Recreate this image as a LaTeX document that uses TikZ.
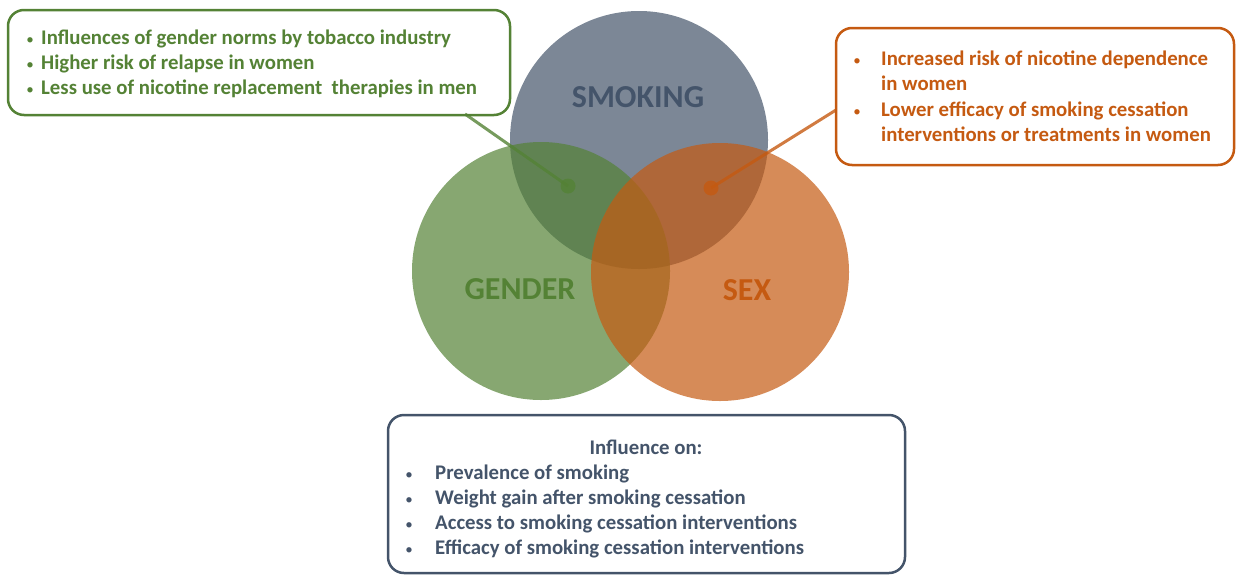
\documentclass[tikz,border=0pt]{standalone}
\usepackage{fontspec}
\setmainfont{Carlito}
\definecolor{gcol}{HTML}{548235}
\definecolor{ocol}{HTML}{C55A11}
\definecolor{scol}{HTML}{44546A}
\begin{document}
\begin{tikzpicture}[x=1pt,y=-1pt,
  venn/.style={circle,minimum size=258pt,inner sep=0pt,fill opacity=0.7},
  box/.style={draw,rounded corners=16pt,line width=2.5pt,fill=white,inner sep=0pt},
  txt/.style={anchor=base west,inner sep=0pt,font=\fontsize{20.8}{24}\selectfont\bfseries},
  bul/.style={anchor=base,inner sep=0pt,font=\fontsize{15}{18}\selectfont},
  big/.style={inner sep=0pt,font=\fontsize{32}{36}\selectfont\bfseries},
  dot/.style={circle,minimum size=15pt,inner sep=0pt},
  conn/.style={line width=3pt,draw opacity=0.8}]
\useasboundingbox (0,0) rectangle (1236,576);
% circles
\node[venn,fill=scol] (smoking) at (639,140) {};
\node[venn,fill=gcol] (gender) at (541,271) {};
\node[venn,fill=ocol] (sex) at (720,272) {};
\node[big,text=scol] (lsmoking) at (638,97) {SMOKING};
\node[big,text=gcol] (lgender) at (520,289) {GENDER};
\node[big,text=ocol] (lsex) at (747,290) {SEX};
% boxes
\node[box,draw=gcol,minimum width=502pt,minimum height=105pt] (gbox) at (259,62.5) {};
\node[box,draw=ocol,minimum width=398pt,minimum height=137pt] (obox) at (1035,96.5) {};
\node[box,draw=scol,minimum width=517pt,minimum height=158pt] (sbox) at (646.5,494) {};
% connectors
\coordinate (gtail) at (465,114);
\coordinate (otail) at (836,110);
\node[dot,fill=gcol,opacity=0.8] (gdot) at (568,186) {};
\node[dot,fill=ocol,opacity=0.8] (odot) at (711,188) {};
\draw[conn,gcol] (gtail) -- (gdot.center);
\draw[conn,ocol] (otail) -- (odot.center);
% left box text
\begin{scope}[text=gcol]
\node[bul] (gb1) at (30,44.5) {•};
\node[txt] (gt1) at (41,44.5) {Influences of gender norms by tobacco industry};
\node[bul] (gb2) at (30,69.5) {•};
\node[txt] (gt2) at (41,69.5) {Higher risk of relapse in women};
\node[bul] (gb3) at (30,94.5) {•};
\node[txt] (gt3) at (41,94.5) {Less use of nicotine replacement\ \ therapies in men};
\end{scope}
% right box text
\begin{scope}[text=ocol]
\node[bul] (ob1) at (857,65) {•};
\node[txt] (ot1) at (881,65) {Increased risk of nicotine dependence};
\node[txt] (ot2) at (881,90.5) {in women};
\node[bul] (ob2) at (857,116) {•};
\node[txt] (ot3) at (881,116) {Lower efficacy of smoking cessation};
\node[txt] (ot4) at (881,141.5) {interventions or treatments in women};
\end{scope}
% bottom box text
\begin{scope}[text=scol]
\node[txt,anchor=base] (st0) at (646,454.5) {Influence on:};
\node[bul] (sb1) at (409,479.5) {•};
\node[txt] (st1) at (435,479.5) {Prevalence of smoking};
\node[bul] (sb2) at (409,504.5) {•};
\node[txt] (st2) at (435,504.5) {Weight gain after smoking cessation};
\node[bul] (sb3) at (409,529.5) {•};
\node[txt] (st3) at (435,529.5) {Access to smoking cessation interventions};
\node[bul] (sb4) at (409,554.5) {•};
\node[txt] (st4) at (435,554.5) {Efficacy of smoking cessation interventions};
\end{scope}
\end{tikzpicture}
\end{document}
